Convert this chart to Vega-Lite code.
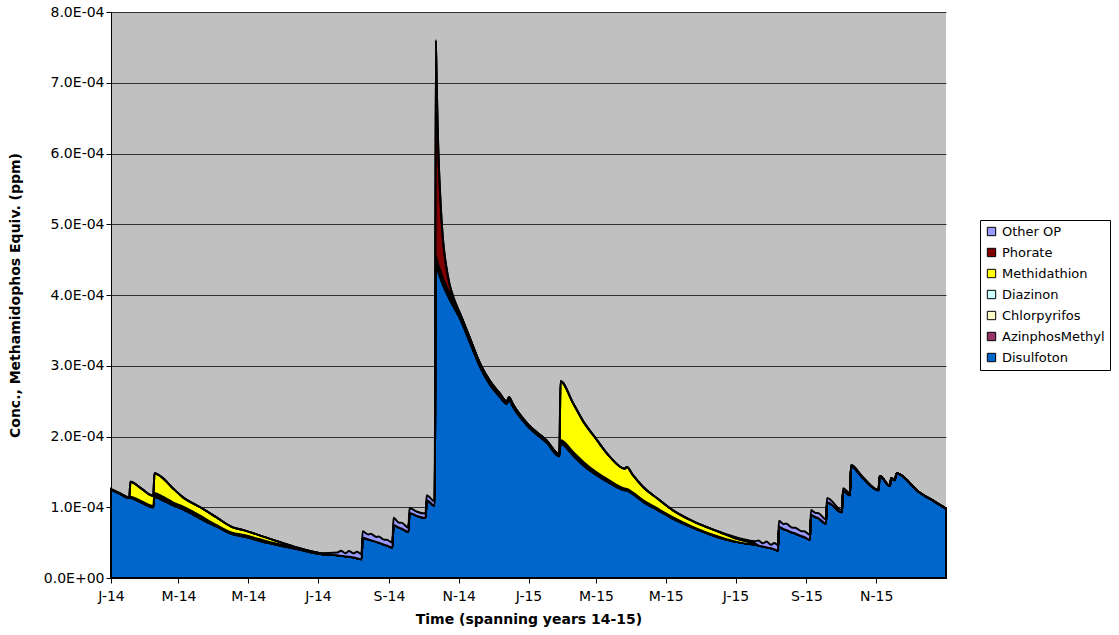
{
"$schema": "https://vega.github.io/schema/vega-lite/v6.json",
"width": 835, "height": 566,
"autosize": {"type": "none"},
"padding": {"left": 111, "top": 12, "right": 173, "bottom": 57},
"background": "white",
"config": {
  "font": "DejaVu Sans",
  "view": {"fill": "#C0C0C0", "stroke": null}
},
"datasets": {
  "series": [
    {"name": "Disulfoton", "rank": 1},
    {"name": "AzinphosMethyl", "rank": 2},
    {"name": "Chlorpyrifos", "rank": 3},
    {"name": "Diazinon", "rank": 4},
    {"name": "Methidathion", "rank": 5},
    {"name": "Phorate", "rank": 6},
    {"name": "Other OP", "rank": 7}
  ],
  "conc": [
{"date":"2014-01-01","Disulfoton":1.25e-4,"AzinphosMethyl":0,"Chlorpyrifos":0,"Diazinon":0,"Methidathion":0,"Phorate":0,"Other OP":1e-6},
{"date":"2014-01-09","Disulfoton":1.19e-4,"AzinphosMethyl":0,"Chlorpyrifos":0,"Diazinon":0,"Methidathion":0,"Phorate":0,"Other OP":1e-6},
{"date":"2014-01-17","Disulfoton":1.13e-4,"AzinphosMethyl":0,"Chlorpyrifos":0,"Diazinon":0,"Methidathion":0,"Phorate":0,"Other OP":1e-6},
{"date":"2014-01-18","Disulfoton":1.13e-4,"AzinphosMethyl":0,"Chlorpyrifos":1e-6,"Diazinon":1e-6,"Methidathion":2.1e-5,"Phorate":0,"Other OP":0},
{"date":"2014-01-27","Disulfoton":1.07e-4,"AzinphosMethyl":0,"Chlorpyrifos":1e-6,"Diazinon":1e-6,"Methidathion":1.8e-5,"Phorate":0,"Other OP":0},
{"date":"2014-02-07","Disulfoton":1.00e-4,"AzinphosMethyl":0,"Chlorpyrifos":1e-6,"Diazinon":1e-6,"Methidathion":1.4e-5,"Phorate":0,"Other OP":0},
{"date":"2014-02-08","Disulfoton":1.15e-4,"AzinphosMethyl":0,"Chlorpyrifos":2e-6,"Diazinon":3e-6,"Methidathion":2.8e-5,"Phorate":0,"Other OP":0},
{"date":"2014-02-14","Disulfoton":1.11e-4,"AzinphosMethyl":0,"Chlorpyrifos":2e-6,"Diazinon":3e-6,"Methidathion":2.7e-5,"Phorate":0,"Other OP":0},
{"date":"2014-02-24","Disulfoton":1.03e-4,"AzinphosMethyl":0,"Chlorpyrifos":2e-6,"Diazinon":2e-6,"Methidathion":2.0e-5,"Phorate":0,"Other OP":0},
{"date":"2014-03-05","Disulfoton":0.97e-4,"AzinphosMethyl":0,"Chlorpyrifos":2e-6,"Diazinon":2e-6,"Methidathion":1.3e-5,"Phorate":0,"Other OP":0},
{"date":"2014-03-20","Disulfoton":0.84e-4,"AzinphosMethyl":0,"Chlorpyrifos":2e-6,"Diazinon":2e-6,"Methidathion":1.2e-5,"Phorate":0,"Other OP":0},
{"date":"2014-04-03","Disulfoton":0.73e-4,"AzinphosMethyl":0,"Chlorpyrifos":1e-6,"Diazinon":1e-6,"Methidathion":1.1e-5,"Phorate":0,"Other OP":0},
{"date":"2014-04-17","Disulfoton":0.62e-4,"AzinphosMethyl":0,"Chlorpyrifos":1e-6,"Diazinon":1e-6,"Methidathion":0.8e-5,"Phorate":0,"Other OP":0},
{"date":"2014-04-26","Disulfoton":0.59e-4,"AzinphosMethyl":0,"Chlorpyrifos":1e-6,"Diazinon":1e-6,"Methidathion":0.7e-5,"Phorate":0,"Other OP":0},
{"date":"2014-05-17","Disulfoton":0.50e-4,"AzinphosMethyl":0,"Chlorpyrifos":1e-6,"Diazinon":1e-6,"Methidathion":0.5e-5,"Phorate":0,"Other OP":0},
{"date":"2014-06-15","Disulfoton":0.40e-4,"AzinphosMethyl":0,"Chlorpyrifos":5e-7,"Diazinon":5e-7,"Methidathion":0.1e-5,"Phorate":0,"Other OP":0},
{"date":"2014-07-03","Disulfoton":0.34e-4,"AzinphosMethyl":0,"Chlorpyrifos":0,"Diazinon":0,"Methidathion":0.1e-5,"Phorate":0,"Other OP":0},
{"date":"2014-07-18","Disulfoton":0.32e-4,"AzinphosMethyl":0,"Chlorpyrifos":0,"Diazinon":0,"Methidathion":0,"Phorate":0,"Other OP":0.4e-5},
{"date":"2014-07-21","Disulfoton":0.315e-4,"AzinphosMethyl":0,"Chlorpyrifos":0,"Diazinon":0,"Methidathion":0,"Phorate":0,"Other OP":0.7e-5},
{"date":"2014-07-25","Disulfoton":0.305e-4,"AzinphosMethyl":0,"Chlorpyrifos":0,"Diazinon":0,"Methidathion":0,"Phorate":0,"Other OP":0.45e-5},
{"date":"2014-07-28","Disulfoton":0.30e-4,"AzinphosMethyl":0,"Chlorpyrifos":0,"Diazinon":0,"Methidathion":0,"Phorate":0,"Other OP":0.8e-5},
{"date":"2014-08-01","Disulfoton":0.29e-4,"AzinphosMethyl":0,"Chlorpyrifos":0,"Diazinon":0,"Methidathion":0,"Phorate":0,"Other OP":0.6e-5},
{"date":"2014-08-04","Disulfoton":0.28e-4,"AzinphosMethyl":0,"Chlorpyrifos":0,"Diazinon":0,"Methidathion":0,"Phorate":0,"Other OP":0.9e-5},
{"date":"2014-08-08","Disulfoton":0.265e-4,"AzinphosMethyl":0,"Chlorpyrifos":0,"Diazinon":0,"Methidathion":0,"Phorate":0,"Other OP":0.7e-5},
{"date":"2014-08-09","Disulfoton":0.57e-4,"AzinphosMethyl":0,"Chlorpyrifos":0,"Diazinon":0,"Methidathion":0,"Phorate":0,"Other OP":0.9e-5},
{"date":"2014-08-14","Disulfoton":0.545e-4,"AzinphosMethyl":0,"Chlorpyrifos":0,"Diazinon":0,"Methidathion":0,"Phorate":0,"Other OP":0.7e-5},
{"date":"2014-08-16","Disulfoton":0.535e-4,"AzinphosMethyl":0,"Chlorpyrifos":0,"Diazinon":0,"Methidathion":0,"Phorate":0,"Other OP":0.9e-5},
{"date":"2014-08-21","Disulfoton":0.51e-4,"AzinphosMethyl":0,"Chlorpyrifos":0,"Diazinon":0,"Methidathion":0,"Phorate":0,"Other OP":0.7e-5},
{"date":"2014-08-23","Disulfoton":0.50e-4,"AzinphosMethyl":0,"Chlorpyrifos":0,"Diazinon":0,"Methidathion":0,"Phorate":0,"Other OP":0.85e-5},
{"date":"2014-08-28","Disulfoton":0.47e-4,"AzinphosMethyl":0,"Chlorpyrifos":0,"Diazinon":0,"Methidathion":0,"Phorate":0,"Other OP":0.7e-5},
{"date":"2014-08-30","Disulfoton":0.46e-4,"AzinphosMethyl":0,"Chlorpyrifos":0,"Diazinon":0,"Methidathion":0,"Phorate":0,"Other OP":0.8e-5},
{"date":"2014-09-04","Disulfoton":0.43e-4,"AzinphosMethyl":0,"Chlorpyrifos":0,"Diazinon":0,"Methidathion":0,"Phorate":0,"Other OP":0.7e-5},
{"date":"2014-09-05","Disulfoton":0.75e-4,"AzinphosMethyl":0,"Chlorpyrifos":0,"Diazinon":0,"Methidathion":0,"Phorate":0,"Other OP":1.0e-5},
{"date":"2014-09-10","Disulfoton":0.71e-4,"AzinphosMethyl":0,"Chlorpyrifos":0,"Diazinon":0,"Methidathion":0,"Phorate":0,"Other OP":0.7e-5},
{"date":"2014-09-12","Disulfoton":0.70e-4,"AzinphosMethyl":0,"Chlorpyrifos":0,"Diazinon":0,"Methidathion":0,"Phorate":0,"Other OP":0.8e-5},
{"date":"2014-09-18","Disulfoton":0.65e-4,"AzinphosMethyl":0,"Chlorpyrifos":0,"Diazinon":0,"Methidathion":0,"Phorate":0,"Other OP":0.6e-5},
{"date":"2014-09-19","Disulfoton":0.92e-4,"AzinphosMethyl":0,"Chlorpyrifos":0,"Diazinon":0,"Methidathion":0,"Phorate":0,"Other OP":0.7e-5},
{"date":"2014-09-25","Disulfoton":0.88e-4,"AzinphosMethyl":0,"Chlorpyrifos":0,"Diazinon":0,"Methidathion":0,"Phorate":0,"Other OP":0.6e-5},
{"date":"2014-10-03","Disulfoton":0.85e-4,"AzinphosMethyl":0,"Chlorpyrifos":0,"Diazinon":0,"Methidathion":0,"Phorate":0,"Other OP":0.6e-5},
{"date":"2014-10-04","Disulfoton":1.10e-4,"AzinphosMethyl":0,"Chlorpyrifos":0,"Diazinon":0,"Methidathion":0,"Phorate":0,"Other OP":0.7e-5},
{"date":"2014-10-11","Disulfoton":1.02e-4,"AzinphosMethyl":0,"Chlorpyrifos":0,"Diazinon":0,"Methidathion":0,"Phorate":0,"Other OP":0.6e-5},
{"date":"2014-10-12","Disulfoton":4.45e-4,"AzinphosMethyl":4e-6,"Chlorpyrifos":3e-6,"Diazinon":3e-6,"Methidathion":0,"Phorate":3.05e-4,"Other OP":0},
{"date":"2014-10-13","Disulfoton":4.39e-4,"AzinphosMethyl":4e-6,"Chlorpyrifos":3e-6,"Diazinon":3e-6,"Methidathion":0,"Phorate":2.3e-4,"Other OP":0},
{"date":"2014-10-14","Disulfoton":4.33e-4,"AzinphosMethyl":4e-6,"Chlorpyrifos":3e-6,"Diazinon":3e-6,"Methidathion":0,"Phorate":1.7e-4,"Other OP":0},
{"date":"2014-10-16","Disulfoton":4.24e-4,"AzinphosMethyl":4e-6,"Chlorpyrifos":3e-6,"Diazinon":3e-6,"Methidathion":0,"Phorate":1.0e-4,"Other OP":0},
{"date":"2014-10-18","Disulfoton":4.15e-4,"AzinphosMethyl":3.5e-6,"Chlorpyrifos":3e-6,"Diazinon":3e-6,"Methidathion":0,"Phorate":0.58e-4,"Other OP":0},
{"date":"2014-10-21","Disulfoton":4.04e-4,"AzinphosMethyl":3e-6,"Chlorpyrifos":3e-6,"Diazinon":3e-6,"Methidathion":0,"Phorate":0.28e-4,"Other OP":0},
{"date":"2014-10-24","Disulfoton":3.94e-4,"AzinphosMethyl":3e-6,"Chlorpyrifos":3e-6,"Diazinon":3e-6,"Methidathion":0,"Phorate":0.12e-4,"Other OP":0},
{"date":"2014-10-28","Disulfoton":3.82e-4,"AzinphosMethyl":3e-6,"Chlorpyrifos":2.5e-6,"Diazinon":2.5e-6,"Methidathion":0,"Phorate":0.04e-4,"Other OP":0},
{"date":"2014-11-02","Disulfoton":3.67e-4,"AzinphosMethyl":2.5e-6,"Chlorpyrifos":2e-6,"Diazinon":2e-6,"Methidathion":0,"Phorate":0.01e-4,"Other OP":0},
{"date":"2014-11-10","Disulfoton":3.36e-4,"AzinphosMethyl":2e-6,"Chlorpyrifos":2e-6,"Diazinon":2e-6,"Methidathion":0,"Phorate":0,"Other OP":0},
{"date":"2014-11-20","Disulfoton":2.97e-4,"AzinphosMethyl":2e-6,"Chlorpyrifos":1.5e-6,"Diazinon":1.5e-6,"Methidathion":0,"Phorate":0,"Other OP":0},
{"date":"2014-11-28","Disulfoton":2.74e-4,"AzinphosMethyl":2e-6,"Chlorpyrifos":1.5e-6,"Diazinon":1.5e-6,"Methidathion":0,"Phorate":0,"Other OP":0},
{"date":"2014-12-07","Disulfoton":2.56e-4,"AzinphosMethyl":1.5e-6,"Chlorpyrifos":1.5e-6,"Diazinon":1.5e-6,"Methidathion":0,"Phorate":0,"Other OP":0},
{"date":"2014-12-13","Disulfoton":2.46e-4,"AzinphosMethyl":1.5e-6,"Chlorpyrifos":1e-6,"Diazinon":1e-6,"Methidathion":0,"Phorate":0,"Other OP":0},
{"date":"2014-12-15","Disulfoton":2.52e-4,"AzinphosMethyl":1.5e-6,"Chlorpyrifos":1e-6,"Diazinon":1e-6,"Methidathion":0,"Phorate":0,"Other OP":0},
{"date":"2014-12-18","Disulfoton":2.43e-4,"AzinphosMethyl":1.5e-6,"Chlorpyrifos":1e-6,"Diazinon":1e-6,"Methidathion":0,"Phorate":0,"Other OP":0},
{"date":"2014-12-31","Disulfoton":2.15e-4,"AzinphosMethyl":1e-6,"Chlorpyrifos":1e-6,"Diazinon":1e-6,"Methidathion":0,"Phorate":0,"Other OP":0},
{"date":"2015-01-17","Disulfoton":1.91e-4,"AzinphosMethyl":1e-6,"Chlorpyrifos":1e-6,"Diazinon":1e-6,"Methidathion":0,"Phorate":0,"Other OP":0},
{"date":"2015-01-28","Disulfoton":1.72e-4,"AzinphosMethyl":1e-6,"Chlorpyrifos":1e-6,"Diazinon":1e-6,"Methidathion":0,"Phorate":0,"Other OP":0},
{"date":"2015-01-29","Disulfoton":1.90e-4,"AzinphosMethyl":1e-6,"Chlorpyrifos":2e-6,"Diazinon":2e-6,"Methidathion":0.83e-4,"Phorate":0,"Other OP":0},
{"date":"2015-02-09","Disulfoton":1.73e-4,"AzinphosMethyl":1e-6,"Chlorpyrifos":2e-6,"Diazinon":2e-6,"Methidathion":0.69e-4,"Phorate":0,"Other OP":0},
{"date":"2015-02-18","Disulfoton":1.59e-4,"AzinphosMethyl":1e-6,"Chlorpyrifos":2e-6,"Diazinon":2e-6,"Methidathion":0.57e-4,"Phorate":0,"Other OP":0},
{"date":"2015-02-28","Disulfoton":1.47e-4,"AzinphosMethyl":1e-6,"Chlorpyrifos":1.5e-6,"Diazinon":1.5e-6,"Methidathion":0.48e-4,"Phorate":0,"Other OP":0},
{"date":"2015-03-13","Disulfoton":1.34e-4,"AzinphosMethyl":5e-7,"Chlorpyrifos":1.5e-6,"Diazinon":1.5e-6,"Methidathion":0.34e-4,"Phorate":0,"Other OP":0},
{"date":"2015-03-26","Disulfoton":1.24e-4,"AzinphosMethyl":5e-7,"Chlorpyrifos":1e-6,"Diazinon":1e-6,"Methidathion":0.28e-4,"Phorate":0,"Other OP":0},
{"date":"2015-03-28","Disulfoton":1.235e-4,"AzinphosMethyl":5e-7,"Chlorpyrifos":1e-6,"Diazinon":1e-6,"Methidathion":0.31e-4,"Phorate":0,"Other OP":0},
{"date":"2015-04-02","Disulfoton":1.19e-4,"AzinphosMethyl":0,"Chlorpyrifos":1e-6,"Diazinon":1e-6,"Methidathion":0.25e-4,"Phorate":0,"Other OP":0},
{"date":"2015-04-11","Disulfoton":1.08e-4,"AzinphosMethyl":0,"Chlorpyrifos":1e-6,"Diazinon":1e-6,"Methidathion":0.19e-4,"Phorate":0,"Other OP":0},
{"date":"2015-04-24","Disulfoton":0.96e-4,"AzinphosMethyl":0,"Chlorpyrifos":1e-6,"Diazinon":1e-6,"Methidathion":0.14e-4,"Phorate":0,"Other OP":0},
{"date":"2015-05-07","Disulfoton":0.84e-4,"AzinphosMethyl":0,"Chlorpyrifos":1e-6,"Diazinon":1e-6,"Methidathion":0.10e-4,"Phorate":0,"Other OP":0},
{"date":"2015-05-25","Disulfoton":0.71e-4,"AzinphosMethyl":0,"Chlorpyrifos":5e-7,"Diazinon":5e-7,"Methidathion":0.08e-4,"Phorate":0,"Other OP":0},
{"date":"2015-06-17","Disulfoton":0.57e-4,"AzinphosMethyl":0,"Chlorpyrifos":5e-7,"Diazinon":5e-7,"Methidathion":0.07e-4,"Phorate":0,"Other OP":0},
{"date":"2015-07-05","Disulfoton":0.50e-4,"AzinphosMethyl":0,"Chlorpyrifos":0,"Diazinon":0,"Methidathion":0.04e-4,"Phorate":0,"Other OP":0.2e-5},
{"date":"2015-07-18","Disulfoton":0.47e-4,"AzinphosMethyl":0,"Chlorpyrifos":0,"Diazinon":0,"Methidathion":0.02e-4,"Phorate":0,"Other OP":0.3e-5},
{"date":"2015-07-21","Disulfoton":0.46e-4,"AzinphosMethyl":0,"Chlorpyrifos":0,"Diazinon":0,"Methidathion":0,"Phorate":0,"Other OP":0.7e-5},
{"date":"2015-07-25","Disulfoton":0.445e-4,"AzinphosMethyl":0,"Chlorpyrifos":0,"Diazinon":0,"Methidathion":0,"Phorate":0,"Other OP":0.45e-5},
{"date":"2015-07-28","Disulfoton":0.435e-4,"AzinphosMethyl":0,"Chlorpyrifos":0,"Diazinon":0,"Methidathion":0,"Phorate":0,"Other OP":0.8e-5},
{"date":"2015-08-01","Disulfoton":0.42e-4,"AzinphosMethyl":0,"Chlorpyrifos":0,"Diazinon":0,"Methidathion":0,"Phorate":0,"Other OP":0.5e-5},
{"date":"2015-08-04","Disulfoton":0.405e-4,"AzinphosMethyl":0,"Chlorpyrifos":0,"Diazinon":0,"Methidathion":0,"Phorate":0,"Other OP":0.9e-5},
{"date":"2015-08-07","Disulfoton":0.385e-4,"AzinphosMethyl":0,"Chlorpyrifos":0,"Diazinon":0,"Methidathion":0,"Phorate":0,"Other OP":0.8e-5},
{"date":"2015-08-08","Disulfoton":0.72e-4,"AzinphosMethyl":0,"Chlorpyrifos":0,"Diazinon":0,"Methidathion":0,"Phorate":0,"Other OP":0.9e-5},
{"date":"2015-08-12","Disulfoton":0.69e-4,"AzinphosMethyl":0,"Chlorpyrifos":0,"Diazinon":0,"Methidathion":0,"Phorate":0,"Other OP":0.7e-5},
{"date":"2015-08-14","Disulfoton":0.68e-4,"AzinphosMethyl":0,"Chlorpyrifos":0,"Diazinon":0,"Methidathion":0,"Phorate":0,"Other OP":0.9e-5},
{"date":"2015-08-20","Disulfoton":0.64e-4,"AzinphosMethyl":0,"Chlorpyrifos":0,"Diazinon":0,"Methidathion":0,"Phorate":0,"Other OP":0.7e-5},
{"date":"2015-08-22","Disulfoton":0.63e-4,"AzinphosMethyl":0,"Chlorpyrifos":0,"Diazinon":0,"Methidathion":0,"Phorate":0,"Other OP":0.8e-5},
{"date":"2015-08-28","Disulfoton":0.59e-4,"AzinphosMethyl":0,"Chlorpyrifos":0,"Diazinon":0,"Methidathion":0,"Phorate":0,"Other OP":0.7e-5},
{"date":"2015-08-30","Disulfoton":0.58e-4,"AzinphosMethyl":0,"Chlorpyrifos":0,"Diazinon":0,"Methidathion":0,"Phorate":0,"Other OP":0.8e-5},
{"date":"2015-09-04","Disulfoton":0.54e-4,"AzinphosMethyl":0,"Chlorpyrifos":0,"Diazinon":0,"Methidathion":0,"Phorate":0,"Other OP":0.7e-5},
{"date":"2015-09-05","Disulfoton":0.89e-4,"AzinphosMethyl":0,"Chlorpyrifos":0,"Diazinon":0,"Methidathion":0,"Phorate":0,"Other OP":0.7e-5},
{"date":"2015-09-09","Disulfoton":0.86e-4,"AzinphosMethyl":0,"Chlorpyrifos":0,"Diazinon":0,"Methidathion":0,"Phorate":0,"Other OP":0.6e-5},
{"date":"2015-09-11","Disulfoton":0.85e-4,"AzinphosMethyl":0,"Chlorpyrifos":0,"Diazinon":0,"Methidathion":0,"Phorate":0,"Other OP":0.7e-5},
{"date":"2015-09-18","Disulfoton":0.77e-4,"AzinphosMethyl":0,"Chlorpyrifos":0,"Diazinon":0,"Methidathion":0,"Phorate":0,"Other OP":0.6e-5},
{"date":"2015-09-19","Disulfoton":1.07e-4,"AzinphosMethyl":0,"Chlorpyrifos":0,"Diazinon":0,"Methidathion":0,"Phorate":0,"Other OP":0.6e-5},
{"date":"2015-10-02","Disulfoton":0.93e-4,"AzinphosMethyl":0,"Chlorpyrifos":0,"Diazinon":0,"Methidathion":0,"Phorate":0,"Other OP":0.3e-5},
{"date":"2015-10-03","Disulfoton":1.23e-4,"AzinphosMethyl":0,"Chlorpyrifos":0,"Diazinon":0,"Methidathion":0,"Phorate":0,"Other OP":0.4e-5},
{"date":"2015-10-09","Disulfoton":1.17e-4,"AzinphosMethyl":0,"Chlorpyrifos":0,"Diazinon":0,"Methidathion":0,"Phorate":0,"Other OP":0.3e-5},
{"date":"2015-10-10","Disulfoton":1.58e-4,"AzinphosMethyl":0,"Chlorpyrifos":0,"Diazinon":0,"Methidathion":0,"Phorate":0,"Other OP":0.2e-5},
{"date":"2015-10-20","Disulfoton":1.42e-4,"AzinphosMethyl":0,"Chlorpyrifos":0,"Diazinon":0,"Methidathion":0,"Phorate":0,"Other OP":0.1e-5},
{"date":"2015-11-03","Disulfoton":1.24e-4,"AzinphosMethyl":0,"Chlorpyrifos":0,"Diazinon":0,"Methidathion":0,"Phorate":0,"Other OP":0},
{"date":"2015-11-04","Disulfoton":1.44e-4,"AzinphosMethyl":0,"Chlorpyrifos":0,"Diazinon":0,"Methidathion":0,"Phorate":0,"Other OP":0},
{"date":"2015-11-13","Disulfoton":1.30e-4,"AzinphosMethyl":0,"Chlorpyrifos":0,"Diazinon":0,"Methidathion":0,"Phorate":0,"Other OP":0},
{"date":"2015-11-14","Disulfoton":1.41e-4,"AzinphosMethyl":0,"Chlorpyrifos":0,"Diazinon":0,"Methidathion":0,"Phorate":0,"Other OP":0},
{"date":"2015-11-17","Disulfoton":1.38e-4,"AzinphosMethyl":0,"Chlorpyrifos":0,"Diazinon":0,"Methidathion":0,"Phorate":0,"Other OP":0},
{"date":"2015-11-19","Disulfoton":1.48e-4,"AzinphosMethyl":0,"Chlorpyrifos":0,"Diazinon":0,"Methidathion":0,"Phorate":0,"Other OP":0},
{"date":"2015-11-22","Disulfoton":1.46e-4,"AzinphosMethyl":0,"Chlorpyrifos":0,"Diazinon":0,"Methidathion":0,"Phorate":0,"Other OP":0},
{"date":"2015-12-08","Disulfoton":1.22e-4,"AzinphosMethyl":0,"Chlorpyrifos":0,"Diazinon":0,"Methidathion":0,"Phorate":0,"Other OP":0},
{"date":"2015-12-22","Disulfoton":1.08e-4,"AzinphosMethyl":0,"Chlorpyrifos":0,"Diazinon":0,"Methidathion":0,"Phorate":0,"Other OP":0},
{"date":"2016-01-01","Disulfoton":0.98e-4,"AzinphosMethyl":0,"Chlorpyrifos":0,"Diazinon":0,"Methidathion":0,"Phorate":0,"Other OP":0}
  ]
},
"data": {"name": "conc"},
"transform": [
  {"fold": ["Disulfoton", "AzinphosMethyl", "Chlorpyrifos", "Diazinon", "Methidathion", "Phorate", "Other OP"], "as": ["series", "value"]},
  {"lookup": "series", "from": {"data": {"name": "series"}, "key": "name", "fields": ["rank"]}}
],
"mark": {"type": "area", "stroke": "black", "strokeWidth": 2, "interpolate": "monotone", "opacity": 1},
"encoding": {
  "x": {
    "field": "date", "type": "temporal",
    "scale": {"type": "utc", "domain": [{"year": 2014, "month": 1, "date": 1, "utc": true}, {"year": 2016, "month": 1, "date": 1, "utc": true}]},
    "axis": {
      "title": "Time (spanning years 14-15)",
      "titleFontSize": 14, "titleFontWeight": "bold", "titleColor": "black", "titlePadding": 9,
      "values": [
        {"year": 2014, "month": 1, "date": 1, "utc": true},
        {"year": 2014, "month": 3, "date": 1, "utc": true},
        {"year": 2014, "month": 5, "date": 1, "utc": true},
        {"year": 2014, "month": 7, "date": 1, "utc": true},
        {"year": 2014, "month": 9, "date": 1, "utc": true},
        {"year": 2014, "month": 11, "date": 1, "utc": true},
        {"year": 2015, "month": 1, "date": 1, "utc": true},
        {"year": 2015, "month": 3, "date": 1, "utc": true},
        {"year": 2015, "month": 5, "date": 1, "utc": true},
        {"year": 2015, "month": 7, "date": 1, "utc": true},
        {"year": 2015, "month": 9, "date": 1, "utc": true},
        {"year": 2015, "month": 11, "date": 1, "utc": true}
      ],
      "labelExpr": "slice(utcFormat(datum.value, '%b'), 0, 1) + '-' + utcFormat(datum.value, '%y')",
      "labelFontSize": 14, "labelColor": "black", "labelPadding": 6, "labelFlush": false, "labelOverlap": false,
      "tickSize": 5, "tickColor": "black", "domainColor": "black", "domainWidth": 1, "grid": false
    }
  },
  "y": {
    "field": "value", "type": "quantitative", "stack": "zero",
    "scale": {"domain": [0, 0.0008], "nice": false},
    "axis": {
      "title": "Conc., Methamidophos Equiv. (ppm)",
      "titleFontSize": 14, "titleFontWeight": "bold", "titleColor": "black", "titleX": -96, "titleBaseline": "middle",
      "values": [0, 0.0001, 0.0002, 0.0003, 0.0004, 0.0005, 0.0006, 0.0007, 0.0008],
      "labelExpr": "datum.value == 0 ? '0.0E+00' : replace(format(datum.value, '.1e'), 'e-', 'E-0')",
      "labelFontSize": 14, "labelColor": "black", "labelPadding": 2,
      "tickSize": 5, "tickColor": "black", "domainColor": "black", "domainWidth": 1,
      "grid": true, "gridColor": "black", "gridWidth": 1, "gridOpacity": 0.75
    }
  },
  "color": {
    "field": "series", "type": "nominal",
    "scale": {
      "domain": ["Other OP", "Phorate", "Methidathion", "Diazinon", "Chlorpyrifos", "AzinphosMethyl", "Disulfoton"],
      "range": ["#9999FF", "#800000", "#FFFF00", "#CCFFFF", "#FFFFCC", "#993366", "#0066CC"]
    },
    "legend": {
      "orient": "none", "legendX": 869, "legendY": 208, "title": null,
      "fillColor": "white", "strokeColor": "black", "padding": 5,
      "symbolType": "square", "symbolSize": 70, "symbolStrokeColor": "black", "symbolStrokeWidth": 1, "symbolOpacity": 1,
      "labelFontSize": 13, "labelColor": "black", "labelOffset": 4, "rowPadding": 7
    }
  },
  "order": {"field": "rank", "type": "quantitative", "sort": "ascending"}
}
}
